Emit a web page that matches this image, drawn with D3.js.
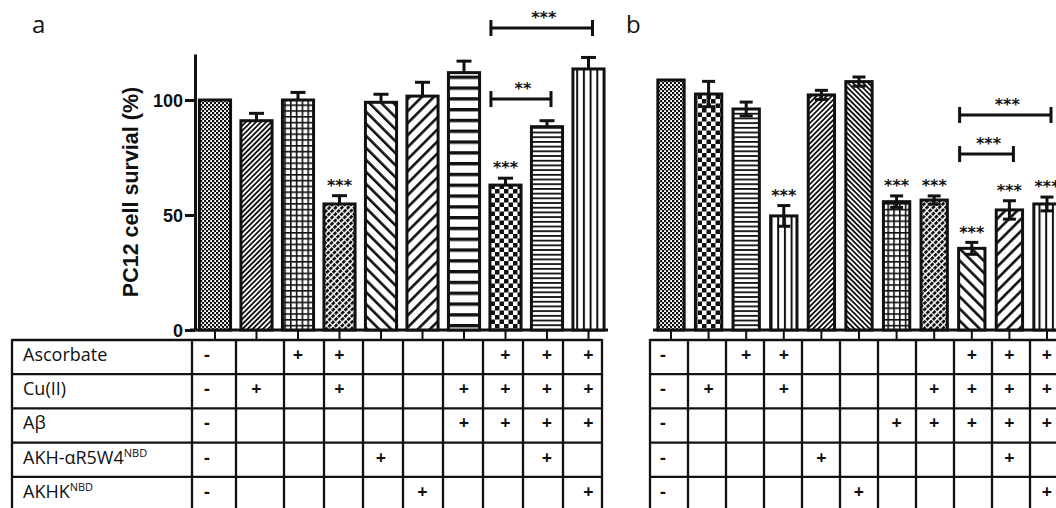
<!DOCTYPE html>
<html>
<head>
<meta charset="utf-8">
<script src="https://cdn.jsdelivr.net/npm/d3@7"></script>
<style>
  html, body { margin: 0; padding: 0; background: #fff; }
  svg { display: block; }
</style>
</head>
<body>
<svg id="chart" width="1056" height="508"></svg>
<script>
// ---- data ----
const valuesA = [100, 91, 100, 54.8, 99, 101.7, 111.9, 63, 88.4, 113.5];
const errorsA = [0, 3.2, 3.3, 3.6, 3.5, 6, 5, 3, 2.6, 5];
const starsA  = ["", "", "", "***", "", "", "", "***", "", ""];
const bracketsA = [
  { from: 7, to: 8, label: "**",  level: 100.4 },
  { from: 7, to: 9, label: "***", level: 131.3 }
];

const valuesB = [108.7, 102.6, 96.1, 49.6, 102.2, 108, 55.8, 56.5, 35.5, 52.2, 54.8];
const errorsB = [0, 5.5, 3, 4.5, 2, 2, 2.5, 1.8, 2.6, 4, 3];
const starsB  = ["", "", "", "***", "", "", "***", "***", "***", "***", "***"];
const bracketsB = [
  { from: 8, to: 9,  label: "***", level: 76.5 },
  { from: 8, to: 10, label: "***", level: 93.5 }
];

const yTicks = [0, 50, 100];
const yTitle = "PC12 cell survial (%)";

const rowNames = ["Ascorbate", "Cu(II)", "Aβ", "AKH-αR5W4", "AKHK"];
const rowSup   = ["", "", "", "NBD", "NBD"];

// treatment table, panel a
const ascA  = ["-", "", "+", "+", "", "", "", "+", "+", "+"];
const cuA   = ["-", "+", "", "+", "", "", "+", "+", "+", "+"];
const abA   = ["-", "", "", "", "", "", "+", "+", "+", "+"];
const akhA  = ["-", "", "", "", "+", "", "", "", "+", ""];
const akhkA = ["-", "", "", "", "", "+", "", "", "", "+"];
// treatment table, panel b
const ascB  = ["-", "", "+", "+", "", "", "", "", "+", "+", "+"];
const cuB   = ["-", "+", "", "+", "", "", "", "+", "+", "+", "+"];
const abB   = ["-", "", "", "", "", "", "+", "+", "+", "+", "+"];
const akhB  = ["-", "", "", "", "+", "", "", "", "", "+", ""];
const akhkB = ["-", "", "", "", "", "+", "", "", "", "", "+"];

// ---- styles ----
const fillA = ["stipple", "fineFwd", "grid", "dashDiag", "wideBack", "wideFwd", "hThick", "checker", "hThin", "vLines"];
const fillB = ["stipple", "checker", "hThin", "vLines", "fineFwd", "fineBack", "grid", "dashDiag", "wideBack", "wideFwd", "vLines"];

const svg = d3.select("#chart");
const defs = svg.append("defs");
const INK = "#111";

function pattern(id, w, h, transform, draw) {
  const p = defs.append("pattern").attr("id", id)
    .attr("patternUnits", "userSpaceOnUse")
    .attr("width", w).attr("height", h);
  if (transform) p.attr("patternTransform", transform);
  p.append("rect").attr("width", w).attr("height", h).attr("fill", "#fff");
  draw(p);
}
const blk = (p, x, y, w, h) => p.append("rect").attr("x", x).attr("y", y).attr("width", w).attr("height", h).attr("fill", INK);

pattern("stipple", 4, 4, null, p => { blk(p, 0, 0, 2.2, 2.2); blk(p, 2, 2, 2.2, 2.2); });
pattern("fineFwd", 3.6, 10, "rotate(45)", p => blk(p, 0, 0, 1.8, 10));
pattern("fineBack", 3.6, 10, "rotate(-45)", p => blk(p, 0, 0, 1.8, 10));
pattern("grid", 5.8, 5.8, null, p => { blk(p, 0, 0, 5.8, 1.6); blk(p, 0, 0, 1.6, 5.8); });
pattern("dashDiag", 4.4, 4.6, "rotate(45)", p => blk(p, 0, 0, 2.8, 3.6));
pattern("wideBack", 8.5, 10, "rotate(-45)", p => blk(p, 0, 0, 2.6, 10));
pattern("wideFwd", 8.5, 10, "rotate(45)", p => blk(p, 0, 0, 2.6, 10));
pattern("hThick", 10, 10.8, null, p => blk(p, 0, 0, 10, 3.4));
pattern("checker", 9, 9, null, p => { blk(p, 0, 0, 4.5, 4.5); blk(p, 4.5, 4.5, 4.5, 4.5); });
pattern("hThin", 10, 4.7, null, p => blk(p, 0, 0, 10, 1.8));
pattern("vLines", 6.7, 10, null, p => blk(p, 0, 0, 2, 10));

// ---- layout ----
const yBase = 330, yTop = 54;
const y = d3.scaleLinear().domain([0, 120]).range([yBase, yTop]);
const xA = d3.scaleBand().domain(d3.range(valuesA.length)).range([194.25, 609.25]).paddingInner(0.25).paddingOuter(0.125);
const xB = d3.scaleBand().domain(d3.range(valuesB.length)).range([652.2, 1065.8]).paddingInner(0.3).paddingOuter(0.15);

const tableTop = 340, rowH = 34.2, labelLeft = 12;
const colEdgesA = [192, 236, 284, 324, 363, 403, 443, 483, 523, 563, 602];
const colB = d3.scaleBand().domain(d3.range(valuesB.length)).range([650, 1068]);

const sans = "'Liberation Sans', Arial, sans-serif";
const body = "'Open Sans', 'Noto Sans', sans-serif";
const starFont = "'DejaVu Sans', sans-serif";
const STAR_FS = 16;

// ---- panel letters ----
svg.append("text").attr("x", 32).attr("y", 33).attr("font-family", body).attr("font-size", 24).attr("fill", INK).text("a");
svg.append("text").attr("x", 626).attr("y", 33).attr("font-family", body).attr("font-size", 24).attr("fill", INK).text("b");

// ---- y axis (panel a) ----
const yAxisG = svg.append("g").attr("transform", "translate(195,0)")
  .call(d3.axisLeft(y).tickValues(yTicks).tickSize(10).tickPadding(2).tickSizeOuter(0));
yAxisG.select(".domain").attr("stroke", INK).attr("stroke-width", 3);
yAxisG.selectAll(".tick line").attr("stroke", INK).attr("stroke-width", 3);
yAxisG.selectAll(".tick text").attr("font-family", sans).attr("font-weight", "bold")
  .attr("font-size", 18).attr("fill", INK).attr("dy", "0.36em");

svg.append("text").attr("transform", "translate(138,192) rotate(-90)")
  .attr("text-anchor", "middle").attr("font-family", sans).attr("font-weight", "bold")
  .attr("font-size", 21.5).attr("fill", INK).text(yTitle);

function drawPanel(x, values, errors, stars, brackets, fills, axisStart, axisEnd, bothWays) {
  const g = svg.append("g");
  // baseline axis + ticks down to table
  g.append("line").attr("x1", axisStart).attr("x2", axisEnd).attr("y1", yBase).attr("y2", yBase)
    .attr("stroke", INK).attr("stroke-width", 3);
  g.selectAll(".xt").data(values).join("line")
    .attr("x1", (d, i) => x(i) + x.bandwidth() / 2).attr("x2", (d, i) => x(i) + x.bandwidth() / 2)
    .attr("y1", yBase).attr("y2", tableTop)
    .attr("stroke", INK).attr("stroke-width", 2);

  // bars
  g.selectAll(".bar").data(values).join("rect")
    .attr("x", (d, i) => x(i)).attr("width", x.bandwidth())
    .attr("y", d => y(d)).attr("height", d => y(0) - y(d))
    .attr("fill", (d, i) => `url(#${fills[i]})`)
    .attr("stroke", INK).attr("stroke-width", 3);

  // error bars
  const capW = bothWays ? 13 : 15;
  values.forEach((v, i) => {
    const e = errors[i];
    if (!e) return;
    const cx = x(i) + x.bandwidth() / 2;
    const lo = bothWays ? v - e : v;
    g.append("line").attr("x1", cx).attr("x2", cx).attr("y1", y(lo)).attr("y2", y(v + e))
      .attr("stroke", INK).attr("stroke-width", 3);
    g.append("line").attr("x1", cx - capW / 2).attr("x2", cx + capW / 2).attr("y1", y(v + e)).attr("y2", y(v + e))
      .attr("stroke", INK).attr("stroke-width", 3);
    if (bothWays) {
      g.append("line").attr("x1", cx - capW / 2).attr("x2", cx + capW / 2).attr("y1", y(lo)).attr("y2", y(lo))
        .attr("stroke", INK).attr("stroke-width", 3);
    }
  });

  // significance marks over bars (glyph centre ~14px above the cap)
  g.selectAll(".star").data(values).join("text")
    .attr("x", (d, i) => x(i) + x.bandwidth() / 2)
    .attr("y", (d, i) => y(d + errors[i]) - 14 + 0.58 * STAR_FS)
    .attr("text-anchor", "middle").attr("font-family", starFont).attr("font-weight", "bold")
    .attr("font-size", STAR_FS).attr("fill", INK)
    .text((d, i) => stars[i]);

  // comparison brackets
  brackets.forEach(b => {
    const x1 = x(b.from) + 1;
    const x2 = x(b.to) + x.bandwidth() / 2 + 4;
    const yy = y(b.level);
    g.append("line").attr("x1", x1).attr("x2", x2).attr("y1", yy).attr("y2", yy).attr("stroke", INK).attr("stroke-width", 3);
    [x1, x2].forEach(xx => g.append("line").attr("x1", xx).attr("x2", xx).attr("y1", yy - 8).attr("y2", yy + 8)
      .attr("stroke", INK).attr("stroke-width", 3));
    g.append("text").attr("x", (x1 + x2) / 2 + 2).attr("y", yy - 14 + 0.58 * STAR_FS)
      .attr("text-anchor", "middle").attr("font-family", starFont).attr("font-weight", "bold")
      .attr("font-size", STAR_FS).attr("fill", INK)
      .text(b.label);
  });
}

drawPanel(xA, valuesA, errorsA, starsA, bracketsA, fillA, 190, 608, false);
drawPanel(xB, valuesB, errorsB, starsB, bracketsB, fillB, 653, 1070, true);

// ---- treatment tables ----
const tableBottom = tableTop + rowH * 5.5;
function drawTable(edges, centers, rows, withLabels) {
  const g = svg.append("g");
  const left = withLabels ? labelLeft : edges[0];
  const right = edges[edges.length - 1];
  for (let r = 0; r <= 5; r++) {
    const yy = tableTop + r * rowH;
    g.append("line").attr("x1", left).attr("x2", right).attr("y1", yy).attr("y2", yy)
      .attr("stroke", INK).attr("stroke-width", 2.3);
  }
  const vx = withLabels ? [labelLeft].concat(edges) : edges;
  vx.forEach(xx => g.append("line").attr("x1", xx).attr("x2", xx).attr("y1", tableTop - 1).attr("y2", tableBottom)
    .attr("stroke", INK).attr("stroke-width", 2.3));

  rows.forEach((row, r) => {
    const base = tableTop + r * rowH + 21;
    if (withLabels) {
      const t = g.append("text").attr("x", 23).attr("y", base)
        .attr("font-family", body).attr("font-size", 18).attr("fill", INK);
      t.append("tspan").text(rowNames[r]);
      if (rowSup[r]) t.append("tspan").attr("font-size", 11).attr("dy", -7).text(rowSup[r]);
    }
    row.forEach((s, i) => {
      if (!s) return;
      g.append("text").attr("x", centers[i] - (s === "-" ? 8 : 0)).attr("y", base)
        .attr("text-anchor", "middle").attr("font-family", body).attr("font-weight", "bold")
        .attr("font-size", 18).attr("fill", INK).text(s);
    });
  });
}

const centersA = valuesA.map((d, i) => xA(i) + xA.bandwidth() / 2);
const centersB = valuesB.map((d, i) => xB(i) + xB.bandwidth() / 2);
drawTable(colEdgesA, centersA, [ascA, cuA, abA, akhA, akhkA], true);
drawTable(colB.domain().map(i => colB(i)).concat([colB.range()[1]]), centersB, [ascB, cuB, abB, akhB, akhkB], false);
</script>
</body>
</html>
